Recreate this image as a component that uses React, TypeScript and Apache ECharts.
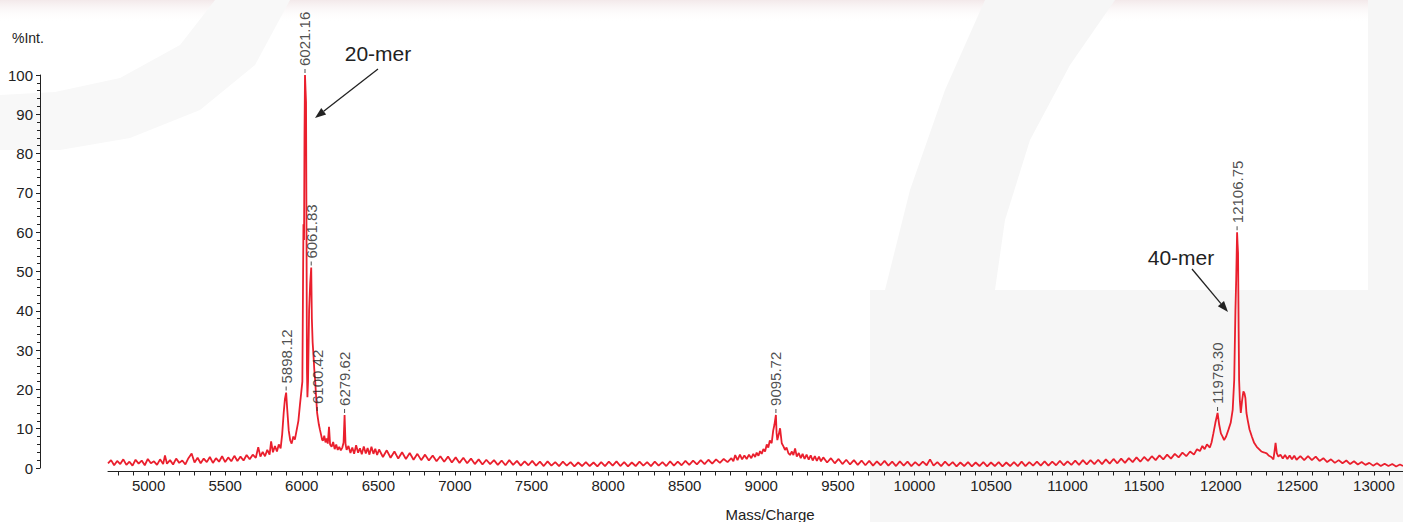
import React, { useEffect, useRef } from "react";
import * as echarts from "echarts";

// ---- spectrum data: [m/z, %Int] ----
const baselineLow: [number, number][] = [
  [4735, 1.2], [4755, 2.0], [4775, 0.7], [4795, 1.8], [4815, 1.0], [4835, 2.2], [4855, 0.8], [4875, 1.6],
  [4895, 0.6], [4915, 2.1], [4935, 1.1], [4955, 1.9], [4975, 0.7], [4995, 2.3], [5015, 1.2], [5035, 1.7],
  [5055, 0.8], [5075, 2.2], [5095, 1.0], [5107, 3.2], [5120, 1.1], [5140, 2.0], [5160, 0.9], [5180, 2.4],
  [5200, 1.3], [5220, 1.9], [5240, 0.9], [5260, 2.5], [5281, 3.7], [5300, 1.4], [5320, 2.6], [5340, 1.2],
  [5360, 2.4], [5380, 1.5], [5400, 2.8], [5420, 1.3], [5440, 2.5], [5460, 1.6], [5480, 3.0], [5500, 1.5],
  [5520, 2.7], [5540, 1.7], [5560, 3.1], [5580, 1.8], [5600, 2.9], [5620, 1.9], [5640, 3.3], [5660, 2.2],
  [5680, 3.4], [5700, 2.6],
];
const region20mer: [number, number][] = [
  [5716, 5.3], [5730, 2.9], [5745, 4.1], [5760, 3.0], [5775, 4.6], [5790, 3.4], [5800, 6.8], [5812, 4.0],
  [5825, 5.6], [5838, 4.2], [5850, 6.0], [5862, 5.0], [5872, 8.5], [5882, 14.0], [5890, 17.5], [5898.12, 19.2],
  [5905, 15.0], [5915, 9.5], [5925, 7.0], [5934, 6.2], [5945, 8.0], [5955, 7.2], [5967, 9.7], [5978, 12.0],
  [5988, 16.0], [5996, 19.0], [6004, 22.0], [6008, 45.0], [6011, 62.0], [6015, 58.0], [6018, 85.0],
  [6021.16, 100], [6025, 96.0], [6028, 93.0], [6031, 60.0], [6034, 25.0], [6037, 18.0], [6041, 22.0],
  [6048, 40.0], [6055, 47.0], [6061.83, 51.0], [6066, 38.0], [6071, 32.0], [6076, 29.0], [6082, 25.0],
  [6088, 22.0], [6094, 18.0], [6100.42, 14.0], [6106, 12.5], [6112, 11.0], [6119, 9.7], [6126, 8.5],
  [6133, 7.2], [6139, 7.0], [6147, 8.2], [6155, 6.5], [6163, 7.5], [6170, 6.2], [6178, 10.5], [6185, 6.0],
  [6195, 5.4], [6205, 6.6], [6215, 4.8], [6225, 6.0], [6235, 4.6], [6245, 5.4], [6255, 4.5], [6265, 5.2],
  [6273, 6.5], [6279.62, 13.5], [6286, 6.0], [6293, 4.6], [6305, 5.6], [6318, 3.8], [6330, 5.2], [6342, 3.6],
  [6355, 5.8], [6368, 3.9], [6380, 5.0], [6392, 3.5], [6405, 5.5], [6418, 3.7], [6430, 5.1], [6442, 3.4],
  [6455, 5.4], [6468, 3.6], [6480, 4.9], [6492, 3.3], [6505, 4.7],
];
const baselineMid: [number, number][] = [
  [6530, 2.8], [6555, 4.5], [6580, 2.6], [6605, 4.2], [6630, 2.4], [6655, 4.0], [6680, 2.3], [6705, 3.8],
  [6730, 2.1], [6755, 3.6], [6780, 2.0], [6805, 3.4], [6830, 1.9], [6855, 3.2], [6880, 1.7], [6905, 3.0],
  [6930, 1.6], [6955, 2.9], [6980, 1.4], [7005, 2.7], [7030, 1.3], [7055, 2.6], [7080, 1.2], [7105, 2.4],
  [7130, 1.0], [7155, 2.2], [7180, 0.9], [7205, 2.1], [7230, 1.0], [7255, 2.0], [7280, 0.8], [7305, 1.9],
  [7330, 0.7], [7355, 2.0], [7380, 0.8], [7405, 1.8], [7430, 0.6], [7455, 1.7], [7480, 0.7], [7505, 1.8],
  [7530, 0.6], [7555, 1.6], [7580, 0.5], [7605, 1.7], [7630, 0.6], [7655, 1.5], [7680, 0.5], [7705, 1.6],
  [7730, 0.6], [7755, 1.5], [7780, 0.4], [7805, 1.4], [7830, 0.5], [7855, 1.5], [7880, 0.5], [7905, 1.4],
  [7930, 0.4], [7955, 1.5], [7980, 0.5], [8005, 1.6], [8030, 0.6], [8055, 1.7], [8080, 0.5], [8105, 1.5],
  [8130, 0.4], [8155, 1.4], [8180, 0.5], [8205, 1.6], [8230, 0.6], [8255, 1.5], [8280, 0.5], [8305, 1.6],
  [8330, 0.6], [8355, 1.5], [8380, 0.5], [8405, 1.7], [8430, 0.6], [8455, 1.6], [8480, 0.7], [8505, 1.8],
  [8530, 0.8], [8555, 1.9], [8580, 0.9], [8605, 2.0], [8630, 1.0], [8655, 2.1], [8680, 1.1], [8705, 2.2],
  [8730, 1.3], [8755, 2.3], [8780, 1.5], [8805, 2.5],
];
const region30mer: [number, number][] = [
  [8818, 1.7], [8830, 3.3], [8845, 2.0], [8861, 3.4], [8875, 2.2], [8890, 3.2], [8905, 2.3], [8920, 3.4],
  [8935, 2.5], [8948, 3.6], [8960, 2.8], [8970, 3.9], [8982, 3.1], [8992, 4.3], [9003, 3.6], [9014, 4.8],
  [9025, 4.2], [9036, 6.0], [9046, 5.2], [9056, 7.0], [9068, 6.3], [9078, 9.5], [9086, 11.0], [9095.72, 13.5],
  [9100, 9.0], [9105, 7.1], [9114, 8.5], [9123, 10.1], [9134, 6.3], [9145, 5.5], [9155, 4.6], [9165, 5.2],
  [9177, 3.8], [9188, 3.3], [9200, 4.2], [9210, 3.3], [9221, 5.0], [9232, 2.9], [9245, 3.8], [9258, 2.5],
  [9270, 3.6], [9283, 2.3], [9296, 3.4], [9310, 2.1], [9323, 3.2], [9336, 1.9], [9350, 3.0], [9363, 1.8],
  [9377, 2.9], [9390, 1.7], [9405, 2.7],
];
const baselineHigh: [number, number][] = [
  [9430, 1.4], [9455, 2.5], [9480, 1.2], [9505, 2.3], [9530, 1.0], [9555, 2.1], [9580, 0.9], [9605, 2.0],
  [9630, 0.8], [9655, 1.9], [9680, 0.7], [9705, 1.8], [9730, 0.6], [9755, 1.7], [9780, 0.7], [9805, 1.8],
  [9830, 0.6], [9855, 1.6], [9880, 0.5], [9905, 1.7], [9930, 0.6], [9955, 1.6], [9980, 0.5], [10005, 1.5],
  [10030, 0.6], [10055, 1.6], [10080, 0.7], [10102, 2.2], [10125, 0.6], [10150, 1.5], [10175, 0.5], [10200, 1.6],
  [10225, 0.6], [10250, 1.5], [10275, 0.4], [10300, 1.4], [10325, 0.5], [10350, 1.5], [10375, 0.4], [10400, 1.4],
  [10425, 0.5], [10450, 1.5], [10475, 0.4], [10500, 1.4], [10525, 0.5], [10550, 1.5], [10575, 0.4], [10600, 1.4],
  [10625, 0.5], [10650, 1.5], [10675, 0.5], [10700, 1.6], [10725, 0.5], [10750, 1.5], [10775, 0.6], [10800, 1.6],
  [10825, 0.6], [10850, 1.7], [10875, 0.6], [10900, 1.6], [10925, 0.7], [10950, 1.8], [10975, 0.7], [11000, 1.7],
  [11025, 0.8], [11050, 1.9], [11075, 0.8], [11100, 2.0], [11125, 0.9], [11150, 2.0], [11175, 1.0], [11200, 2.1],
  [11225, 1.0], [11250, 2.2], [11275, 1.1], [11300, 2.3], [11325, 1.2], [11350, 2.4], [11375, 1.3], [11400, 2.5],
  [11425, 1.5], [11450, 2.7], [11475, 1.6], [11500, 2.8], [11525, 1.8], [11550, 3.0], [11575, 2.0], [11600, 3.2],
  [11625, 2.2], [11650, 3.4], [11675, 2.4], [11700, 3.6], [11725, 2.7], [11750, 3.9], [11775, 3.0], [11800, 4.2],
  [11825, 3.4], [11845, 4.8],
];
const region40mer: [number, number][] = [
  [11864, 4.3], [11880, 5.6], [11895, 4.8], [11910, 6.0], [11929, 5.2], [11940, 6.5], [11952, 8.8], [11965, 11.5],
  [11979.3, 14.0], [11990, 11.0], [12001, 8.8], [12012, 8.0], [12022, 7.1], [12035, 8.0], [12050, 9.7], [12065, 11.5],
  [12078, 14.8], [12088, 22.4], [12096, 40.3], [12101, 48.0], [12106.75, 60.0], [12110, 57.0], [12113, 54.7],
  [12117, 35.0], [12120, 22.4], [12125, 17.0], [12131, 14.0], [12139, 17.0], [12148, 19.5], [12155, 19.0],
  [12161, 17.8], [12168, 14.0], [12176, 12.2], [12188, 9.8], [12203, 8.0], [12218, 6.4], [12235, 5.4], [12250, 4.8],
  [12265, 4.2], [12280, 4.0], [12300, 3.7], [12315, 3.1], [12330, 2.8], [12344, 2.2], [12352, 4.5], [12358, 6.4],
  [12366, 3.8], [12376, 2.9], [12390, 3.4], [12405, 2.4], [12420, 3.3], [12435, 2.3], [12450, 3.2], [12465, 2.2],
  [12480, 3.1], [12495, 2.1],
];
const baselineEnd: [number, number][] = [
  [12520, 3.0], [12545, 2.0], [12570, 3.0], [12595, 2.0], [12620, 2.9], [12645, 1.8], [12670, 2.5], [12695, 1.5],
  [12720, 2.2], [12745, 1.3], [12770, 2.0], [12795, 1.2], [12820, 1.9], [12845, 1.0], [12870, 1.7], [12895, 0.9],
  [12920, 1.5], [12945, 0.8], [12970, 1.3], [12995, 0.6], [13020, 1.2], [13045, 0.5], [13070, 1.1], [13095, 0.5],
  [13120, 1.0], [13145, 0.4], [13170, 0.9], [13190, 0.5],
];

// ---- peak annotations ----
const peakMz = [5898.12, 6021.16, 6061.83, 6100.42, 6279.62, 9095.72, 11979.3, 12106.75];
const peakInt = [19.2, 100, 51, 14, 13.5, 13.5, 14, 60];
const peakLabels = ["5898.12", "6021.16", "6061.83", "6100.42", "6279.62", "9095.72", "11979.30", "12106.75"];

// ---- axes ----
const xMin = 4735;
const xMax = 13190;
const xTickLabels = [5000, 5500, 6000, 6500, 7000, 7500, 8000, 8500, 9000, 9500, 10000, 10500, 11000, 11500, 12000, 12500, 13000];
const xMinorStep = 100;
const yTickLabels = [0, 10, 20, 30, 40, 50, 60, 70, 80, 90, 100];

const FONT = "'Liberation Sans', Arial, sans-serif";
const RED = "#ea1f2d";
const INK = "#222222";

function arrow(x1: number, y1: number, x2: number, y2: number) {
  const dx = x2 - x1;
  const dy = y2 - y1;
  const len = Math.sqrt(dx * dx + dy * dy);
  const ux = dx / len;
  const uy = dy / len;
  const hl = 11;
  const hw = 4;
  const bx = x2 - ux * hl;
  const by = y2 - uy * hl;
  const nx = -uy;
  const ny = ux;
  return [
    { type: "line", z: 10, shape: { x1, y1, x2: bx, y2: by }, style: { stroke: INK, lineWidth: 1.3 } },
    {
      type: "polygon",
      z: 10,
      shape: { points: [[x2, y2], [bx + nx * hw, by + ny * hw], [bx - nx * hw, by - ny * hw]] },
      style: { fill: INK },
    },
  ];
}

export default function App() {
  const ref = useRef<HTMLDivElement>(null);

  useEffect(() => {
    if (!ref.current) return;
    const chart = echarts.init(ref.current, null, { renderer: "svg" });

    const spectrum = [
      ...baselineLow,
      ...region20mer,
      ...baselineMid,
      ...region30mer,
      ...baselineHigh,
      ...region40mer,
      ...baselineEnd,
    ];

    const minorTicks: number[] = [];
    for (let v = Math.ceil(xMin / xMinorStep) * xMinorStep; v <= xMax; v += xMinorStep) minorTicks.push(v);

    const wm = "#f6f6f6";
    const watermark: any[] = [
      {
        type: "rect",
        z: -5,
        shape: { x: 0, y: 0, width: 1403, height: 22 },
        style: {
          fill: new echarts.graphic.LinearGradient(0, 0, 0, 1, [
            { offset: 0, color: "#f3e9ea" },
            { offset: 1, color: "rgba(255,255,255,0)" },
          ]),
        },
      },
      {
        type: "polygon",
        z: -5,
        shape: {
          points: [
            [0, 150], [60, 150], [130, 138], [200, 110], [255, 65], [290, 0],
            [215, 0], [180, 45], [120, 78], [55, 92], [0, 95],
          ],
        },
        style: { fill: "#f8f8f8" },
      },
      {
        type: "polygon",
        z: -5,
        shape: {
          points: [
            [985, 0], [945, 90], [910, 190], [885, 290], [872, 400], [870, 522],
            [1000, 522], [995, 290], [1005, 220], [1030, 140], [1070, 65], [1115, 0],
          ],
        },
        style: { fill: wm },
      },
      { type: "rect", z: -5, shape: { x: 870, y: 290, width: 533, height: 232 }, style: { fill: wm } },
      { type: "rect", z: -5, shape: { x: 1368, y: 0, width: 35, height: 290 }, style: { fill: wm } },
    ];

    const option: any = {
      animation: false,
      backgroundColor: "#ffffff",
      grid: { left: 108, right: 0, top: 75, bottom: 54 },
      xAxis: {
        type: "value",
        min: xMin,
        max: xMax,
        offset: 3.5,
        axisLine: { onZero: false, lineStyle: { color: INK, width: 1 } },
        axisTick: { show: true, customValues: minorTicks, length: 4, lineStyle: { color: INK } },
        axisLabel: {
          customValues: xTickLabels,
          formatter: (v: number) => String(v),
          fontSize: 15,
          color: INK,
          margin: 6,
          fontFamily: FONT,
        },
        splitLine: { show: false },
      },
      yAxis: {
        type: "value",
        min: 0,
        max: 100,
        interval: 10,
        offset: 68,
        axisLine: { show: true, lineStyle: { color: INK, width: 1 } },
        axisTick: { show: true, length: 4, lineStyle: { color: INK } },
        minorTick: { show: true, splitNumber: 5, length: 3, lineStyle: { color: INK } },
        axisLabel: {
          customValues: yTickLabels,
          formatter: (v: number) => String(v),
          fontSize: 15,
          color: INK,
          margin: 7,
          fontFamily: FONT,
        },
        splitLine: { show: false },
      },
      graphic: [
        ...watermark,
        {
          type: "text",
          z: 10,
          left: 12,
          top: 31,
          style: { text: "%Int.", fontSize: 14, fill: INK, fontFamily: FONT },
        },
        {
          type: "text",
          z: 10,
          x: 770,
          y: 514,
          style: {
            text: "Mass/Charge",
            fontSize: 15,
            fill: INK,
            fontFamily: FONT,
            align: "center",
            verticalAlign: "middle",
          },
        },
        {
          type: "text",
          z: 10,
          x: 378,
          y: 53,
          style: { text: "20-mer", fontSize: 21, fill: INK, fontFamily: FONT, align: "center", verticalAlign: "middle" },
        },
        ...arrow(378, 69, 315, 118),
        {
          type: "text",
          z: 10,
          x: 1181,
          y: 257,
          style: { text: "40-mer", fontSize: 21, fill: INK, fontFamily: FONT, align: "center", verticalAlign: "middle" },
        },
        ...arrow(1192, 269, 1228, 312),
      ],
      series: [
        {
          type: "line",
          data: spectrum,
          showSymbol: false,
          symbol: "none",
          lineStyle: { color: RED, width: 1.8 },
          z: 3,
          silent: true,
        },
        {
          type: "scatter",
          data: peakMz.map((m, i) => ({ value: [m, peakInt[i]], name: peakLabels[i] })),
          symbol: "rect",
          symbolSize: [1, 4],
          symbolOffset: [0, -4],
          itemStyle: { color: INK },
          z: 4,
          silent: true,
          label: {
            show: true,
            position: "top",
            distance: 3,
            rotate: 90,
            align: "left",
            verticalAlign: "middle",
            fontSize: 15,
            color: INK,
            fontFamily: FONT,
            formatter: (p: any) => p.name,
          },
        },
      ],
    };

    chart.setOption(option);
    return () => chart.dispose();
  }, []);

  return (
    <div
      ref={ref}
      style={{ position: "fixed", left: 0, top: 0, width: 1403, height: 522, background: "#fff" }}
    />
  );
}
